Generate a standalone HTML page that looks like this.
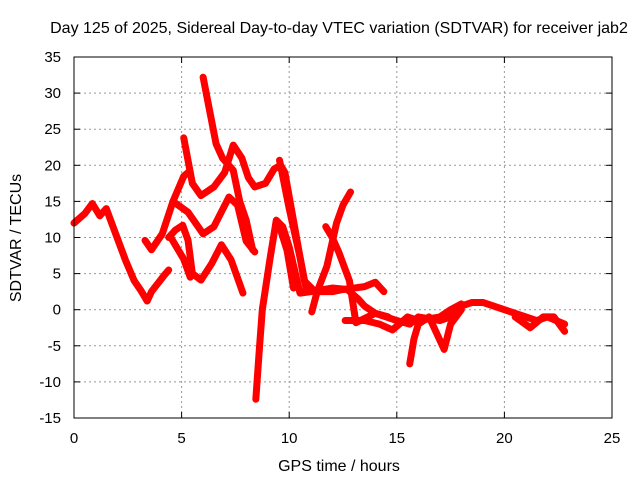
<!DOCTYPE html>
<html><head><meta charset="utf-8"><style>
body{margin:0;background:#fff}
svg{display:block;font-family:"Liberation Sans",sans-serif}
</style></head><body>
<svg id="chart" width="640" height="480">
<text x="339" y="33" text-anchor="middle" font-size="16">Day 125 of 2025, Sidereal Day-to-day VTEC variation (SDTVAR) for receiver jab2</text>
<text x="339" y="471" text-anchor="middle" font-size="16">GPS time / hours</text>
<text transform="translate(21,238) rotate(-90)" text-anchor="middle" font-size="16">SDTVAR / TECUs</text>
<g id="grid"></g><g id="series"></g>
<rect x="74" y="57" width="538" height="361" fill="none" stroke="#000" stroke-width="1"/>
<g id="ticks"></g>
</svg>
<script>
const xTicks=[0,5,10,15,20,25];
const yTicks=[-15,-10,-5,0,5,10,15,20,25,30,35];
const track1=[[0,12],[0.5,13.3],[0.85,14.7],[1.2,13],[1.5,14],[2,10],[2.4,6.8],[2.8,4],[3.1,2.7],[3.4,1.2],[3.6,2.5],[4.2,4.8],[4.4,5.5]];
const track2=[[3.3,9.6],[3.6,8.3],[4.1,10.5],[4.6,15],[5.1,18.5],[5.3,19]];
const track3=[[4.6,15],[5.3,13.5],[6,10.5],[6.5,11.5],[7.2,15.6],[7.6,14.5],[8,9.5],[8.4,8]];
const track4=[[5.1,23.8],[5.5,17.5],[5.9,15.8],[6.5,17],[7,19],[7.4,22.8],[7.8,21],[8.1,18.3],[8.4,17],[8.9,17.5],[9.3,19.5],[9.6,20],[9.8,19],[10.1,14],[10.4,9],[10.7,4],[11.2,2.5],[12,2.5],[12.5,2.8],[13,3],[13.5,3.2],[14,3.8],[14.4,2.5]];
const track5=[[6,32.2],[6.3,27.6],[6.6,23],[6.9,21],[7.4,19.3],[7.7,15],[8,12.4],[8.3,8.3]];
const track6=[[4.4,10],[4.7,11],[5.05,11.7],[5.3,9.6],[5.5,5],[5.9,4.1],[6.4,6.4],[6.85,9],[7.3,6.9],[7.85,2.3]];
const track7=[[4.5,10],[5.1,7],[5.4,4.5]];
const track8=[[8.45,-12.4],[8.6,-6],[8.75,0],[9.1,6.9],[9.4,12.4],[9.7,11.5],[10,8.7],[10.5,2.3],[11,2.5],[12,3],[12.7,2.8],[13.2,1.5],[13.5,0.5],[14,-0.5],[15,-1.5],[15.6,-2],[16,-1],[17,-1.5],[17.5,-1],[18,0.5],[18.5,1],[19,1],[20,0],[21,-1],[21.5,-1.5],[22,-1],[22.8,-2]];
const track9=[[9.55,20.7],[10,14],[10.5,7.3],[10.8,2.7]];
const track10=[[9.5,12],[9.9,8.2],[10.2,3]];
const track11=[[11.05,-0.3],[11.3,2.5],[11.75,6],[12.2,12],[12.5,14.5],[12.85,16.3]];
const track12=[[11.7,11.5],[12,10],[12.3,8],[12.8,4],[13.1,-1.8],[14,-0.5],[14.6,-1]];
const track13=[[12.6,-1.5],[13.5,-1.5],[14.2,-2],[14.8,-2.8],[15.5,-1],[16,-1.5],[17,-1],[17.5,0],[18,0.8]];
const track14=[[15.6,-7.5],[15.8,-4],[16,-2],[16.5,-1],[17.2,-5.5],[17.5,-2],[18,0]];
const track15=[[20.5,-1],[21.2,-2.5],[21.8,-1],[22.3,-1],[22.8,-3]];
const tracks=[track1,track2,track3,track4,track5,track6,track7,track8,track9,track10,track11,track12,track13,track14,track15];
const X0=74,X1=612,Y0=418,Y1=57;
const xs=v=>X0+(v-0)/(25-0)*(X1-X0);
const ys=v=>Y0-(v+15)/(35+15)*(Y0-Y1);
const NS="http://www.w3.org/2000/svg";
const grid=document.getElementById('grid'),tk=document.getElementById('ticks'),ser=document.getElementById('series');
function mk(t,a,p){const e=document.createElementNS(NS,t);for(const k in a)e.setAttribute(k,a[k]);p.appendChild(e);return e;}
xTicks.forEach(v=>{
 const x=xs(v);
 if(v>0&&v<25){const g=mk('line',{x1:x,x2:x,y1:Y0,y2:Y1,stroke:'#999','stroke-dasharray':'2,3'},grid);
 
 }
 mk('line',{x1:x,x2:x,y1:Y0,y2:Y0-6,stroke:'#000'},tk);mk('line',{x1:x,x2:x,y1:Y1,y2:Y1+6,stroke:'#000'},tk);
 const t=mk('text',{x:x,y:Y0+25,'text-anchor':'middle','font-size':15},tk);t.textContent=v;
 
 
});
yTicks.forEach(v=>{
 const y=ys(v);
 if(v>-15&&v<35){const g=mk('line',{x1:X0,x2:X1,y1:y,y2:y,stroke:'#999','stroke-dasharray':'2,3'},grid);
 
 }
 mk('line',{x1:X0,x2:X0+6,y1:y,y2:y,stroke:'#000'},tk);mk('line',{x1:X1,x2:X1-6,y1:y,y2:y,stroke:'#000'},tk);
 const t=mk('text',{x:X0-13,y:y+5,'text-anchor':'end','font-size':15},tk);t.textContent=v;
 
 
});
tracks.forEach(tr=>{
 const p=mk('polyline',{points:tr.map(d=>xs(d[0])+','+ys(d[1])).join(' '),fill:'none',stroke:'#f00','stroke-width':7,'stroke-linejoin':'round','stroke-linecap':'round'},ser);
 
 
});
</script>
</body></html>
